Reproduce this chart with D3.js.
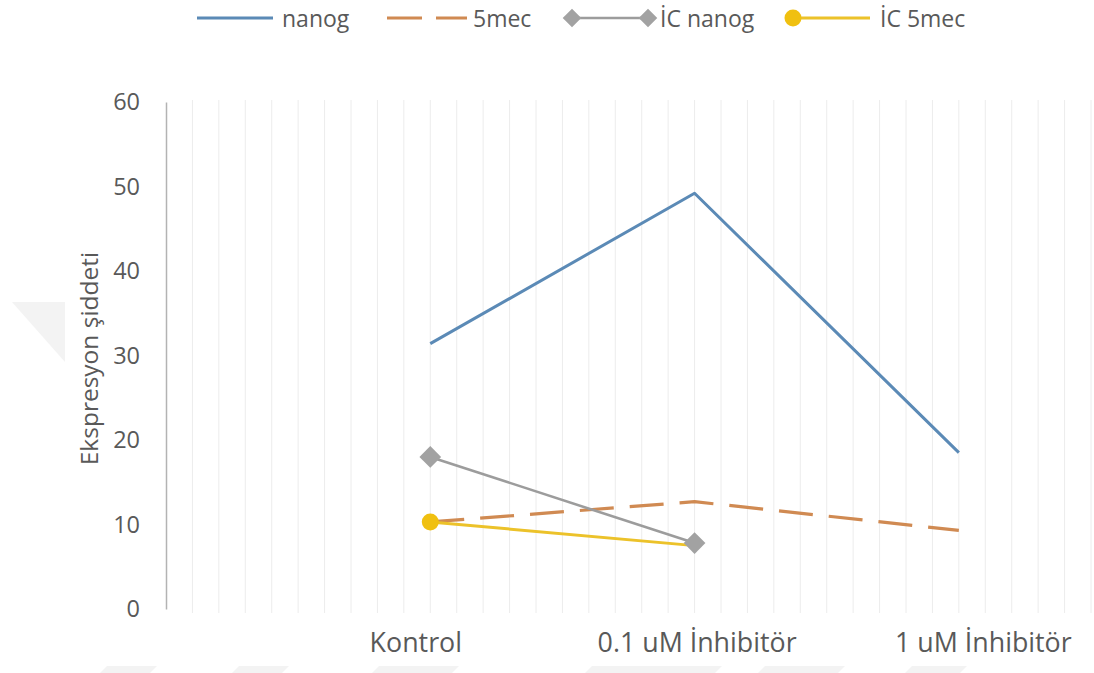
<!DOCTYPE html>
<html>
<head>
<meta charset="utf-8">
<script src="https://cdn.jsdelivr.net/npm/d3@7"></script>
<style>
  html, body { margin: 0; padding: 0; background: #ffffff; }
  svg { display: block; }
  text { font-family: "Open Sans", "Noto Sans", sans-serif; fill: #595959; }
</style>
</head>
<body>
<svg id="chart" width="1094" height="673"></svg>
<script>
// Categories sit at positions 1, 2, 3 on a 0–3.5 horizontal scale
const categories = ["Kontrol", "0.1 uM İnhibitör", "1 uM İnhibitör"];
const categoryPos = [1, 2, 3];

// Series values (Ekspresyon şiddeti)
const nanog   = [31.4, 49.2, 18.5];
const mec5    = [10.3, 12.7, 9.3];
const icNanog = [18.0, 7.8];
const ic5mec  = [10.3, 7.5];

const yTicks = [0, 10, 20, 30, 40, 50, 60];
const seriesNames = ["nanog", "5mec", "İC nanog", "İC 5mec"];

// Label nudges for the category axis (px)
const labelShift = [-15, 2, 24];

const svg = d3.select("#chart");

// faint background watermark
const wm = svg.append("g").attr("fill", "#f3f3f3");
wm.append("polygon").attr("points", "12,302 65,302 65,362");
[[100, 150], [232, 282], [372, 452], [585, 715], [758, 838], [905, 960]].forEach(([a, b]) => {
  wm.append("polygon").attr("points", `${a},673 ${a + 7},666 ${b + 7},666 ${b},673`);
});

const x = d3.scaleLinear().domain([0, 3.5]).range([166, 1091]);
const y = d3.scaleLinear().domain([0, 60]).range([609, 102]);

// vertical gridlines every 0.1
const gridVals = d3.range(1, 36).map(i => i / 10);
svg.append("g")
  .selectAll("line")
  .data(gridVals)
  .join("line")
  .attr("x1", d => x(d)).attr("x2", d => x(d))
  .attr("y1", y(60) - 2).attr("y2", y(0) + 4)
  .attr("stroke", "#ececec")
  .attr("stroke-width", 1);

// y axis
const yAxis = svg.append("g")
  .attr("transform", `translate(${x(0)},0)`)
  .call(d3.axisLeft(y).tickValues(yTicks).tickSize(0).tickPadding(26));
yAxis.select(".domain").attr("stroke", "#b3b3b3").attr("stroke-width", 1.5);
yAxis.selectAll("text")
  .style("font-family", "'Open Sans', sans-serif")
  .style("font-size", "23.5px")
  .attr("fill", "#595959");

// category axis labels
const xAxis = svg.append("g")
  .attr("transform", `translate(0,${y(0)})`)
  .call(d3.axisBottom(x).tickValues(categoryPos)
    .tickFormat((d, i) => categories[i]).tickSize(0).tickPadding(24));
xAxis.select(".domain").remove();
xAxis.selectAll("text")
  .attr("dx", (d, i) => labelShift[i])
  .style("font-family", "'Open Sans', sans-serif")
  .style("font-size", "26.8px")
  .attr("fill", "#595959");

// y axis title
svg.append("text")
  .attr("transform", `translate(88,${(y(0) + y(60)) / 2 + 3}) rotate(-90)`)
  .attr("text-anchor", "middle")
  .attr("dominant-baseline", "central")
  .style("font-size", "24.5px")
  .text("Ekspresyon şiddeti");

const line = d3.line().x(d => x(d[0])).y(d => y(d[1]));
const pairs = vals => vals.map((v, i) => [categoryPos[i], v]);

const styles = {
  nanog:   { color: "#5b8ab6", width: 3, dash: null },
  mec5:    { color: "#d08a52", width: 3.2, dash: "34 16" },
  icNanog: { color: "#9c9c9c", width: 2.6, dash: null },
  ic5mec:  { color: "#ecc22a", width: 3, dash: null }
};

function drawSeries(vals, st) {
  svg.append("path")
    .datum(pairs(vals))
    .attr("d", line)
    .attr("fill", "none")
    .attr("stroke", st.color)
    .attr("stroke-width", st.width)
    .attr("stroke-dasharray", st.dash)
    .attr("stroke-linejoin", "round");
}

drawSeries(nanog, styles.nanog);
drawSeries(mec5, styles.mec5);
drawSeries(icNanog, styles.icNanog);
drawSeries(ic5mec, styles.ic5mec);

const diamond = d3.symbol().type(d3.symbolDiamond2).size(300);
const diamondSmall = d3.symbol().type(d3.symbolDiamond2).size(220);

svg.append("g").selectAll("path")
  .data(pairs(icNanog))
  .join("path")
  .attr("transform", d => `translate(${x(d[0])},${y(d[1])})`)
  .attr("d", diamond)
  .attr("fill", "#a2a2a2");

svg.append("g").selectAll("circle")
  .data(pairs(ic5mec).slice(0, 1))
  .join("circle")
  .attr("cx", d => x(d[0])).attr("cy", d => y(d[1]))
  .attr("r", 8.5)
  .attr("fill", "#f0c010");

// legend
const ly = 18;
const legend = svg.append("g");
legend.append("line").attr("x1", 197).attr("x2", 273).attr("y1", ly).attr("y2", ly)
  .attr("stroke", styles.nanog.color).attr("stroke-width", 3);
legend.append("line").attr("x1", 387).attr("x2", 467).attr("y1", ly).attr("y2", ly)
  .attr("stroke", styles.mec5.color).attr("stroke-width", 3.2).attr("stroke-dasharray", "35 14");
legend.append("line").attr("x1", 572).attr("x2", 648).attr("y1", ly).attr("y2", ly)
  .attr("stroke", styles.icNanog.color).attr("stroke-width", 2.6);
[572, 648].forEach(px => legend.append("path")
  .attr("transform", `translate(${px},${ly})`).attr("d", diamondSmall).attr("fill", "#a2a2a2"));
legend.append("line").attr("x1", 793).attr("x2", 870).attr("y1", ly).attr("y2", ly)
  .attr("stroke", styles.ic5mec.color).attr("stroke-width", 3);
legend.append("circle").attr("cx", 793).attr("cy", ly).attr("r", 8.5).attr("fill", "#f0c010");

const legendTextX = [282, 473, 660, 880];
legend.selectAll("text.lbl")
  .data(seriesNames)
  .join("text")
  .attr("class", "lbl")
  .attr("x", (d, i) => legendTextX[i])
  .attr("y", ly)
  .attr("dominant-baseline", "central")
  .style("font-size", "23px")
  .text(d => d);
</script>
</body>
</html>
